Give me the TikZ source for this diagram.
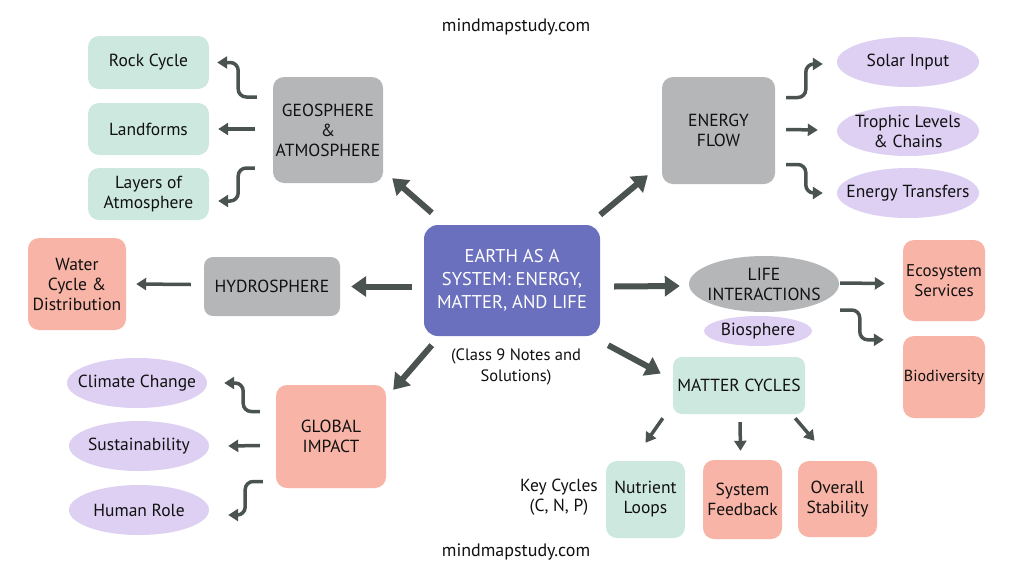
\documentclass[tikz,border=0pt]{standalone}
\usepackage{fontspec}
\setmainfont{PT Sans}
\usetikzlibrary{arrows.meta,calc,shapes.geometric}
\definecolor{cmain}{HTML}{6A70BD}
\definecolor{cgray}{HTML}{B4B6B7}
\definecolor{cmint}{HTML}{CDE9DF}
\definecolor{csalm}{HTML}{F8B4A6}
\definecolor{clav}{HTML}{DDD0F3}
\definecolor{carr}{HTML}{4B5351}
\definecolor{ctxt}{HTML}{111111}
\tikzset{
  box/.style={rectangle, rounded corners=11pt, inner sep=0pt, align=center, text=ctxt,
    font=\fontsize{17.5}{20}\selectfont},
  oval/.style={ellipse, inner xsep=-25pt, inner ysep=-8pt, align=center, text=ctxt, fill=clav,
    minimum width=142pt, minimum height=50pt, font=\fontsize{17.5}{20}\selectfont},
  caps/.style={font=\fontsize{17.5}{20}\selectfont},
  plain/.style={align=center, text=ctxt, font=\fontsize{16.5}{21}\selectfont},
  bigarr/.style={draw=carr, line width=6pt, -{Triangle[length=15pt,width=20pt]}},
  smarr/.style={draw=carr, line width=3.5pt, rounded corners=8pt, -{Triangle[length=10pt,width=12pt]}},
}
\begin{document}
\begin{tikzpicture}[x=1pt,y=-1pt]
\useasboundingbox[fill=white] (0,0) rectangle (1024,576);

% title/footer
\node[plain, font=\fontsize{18}{20}\selectfont] (top) at (516,27) {mindmapstudy.com};
\node[plain, font=\fontsize{18}{20}\selectfont] (bottom) at (516,552) {mindmapstudy.com};

% central
\node[box, fill=cmain, text=white, minimum width=176pt, minimum height=111pt,
  rounded corners=14pt, font=\fontsize{18.5}{23}\selectfont] (center) at (512,280.5)
  {EARTH AS A\\SYSTEM: ENERGY,\\MATTER, AND LIFE};
\node[plain] (notes) at (516,367) {(Class 9 Notes and\\Solutions)};

% geosphere
\node[box, caps, fill=cgray, minimum width=110pt, minimum height=106pt] (geo) at (328,130) {GEOSPHERE\\\&\\ATMOSPHERE};
\node[box, fill=cmint, minimum width=121pt, minimum height=53pt] (rock) at (148.5,62.5) {Rock Cycle};
\node[box, fill=cmint, minimum width=121pt, minimum height=52pt] (land) at (148.5,129) {Landforms};
\node[box, fill=cmint, minimum width=121pt, minimum height=52pt] (layers) at (148.5,194) {Layers of\\Atmosphere};

% energy flow
\node[box, caps, fill=cgray, minimum width=113pt, minimum height=107pt] (energy) at (718.5,130.5) {ENERGY\\FLOW};
\node[oval] (solar) at (908,62) {Solar Input};
\node[oval] (trophic) at (908,131) {Trophic Levels\\\& Chains};
\node[oval] (transf) at (908,193) {Energy Transfers};

% hydrosphere
\node[box, caps, fill=cgray, minimum width=136pt, minimum height=59pt, rounded corners=9pt] (hydro) at (272,286.5) {HYDROSPHERE};
\node[box, fill=csalm, minimum width=98pt, minimum height=92pt] (water) at (77,284) {Water\\Cycle \&\\Distribution};

% global impact
\node[box, caps, fill=csalm, minimum width=110pt, minimum height=103pt] (global) at (331,436.5) {GLOBAL\\IMPACT};
\node[oval, minimum width=140pt] (climate) at (137,383) {Climate Change};
\node[oval, minimum width=140pt] (sust) at (139,446) {Sustainability};
\node[oval, minimum width=140pt] (human) at (139,510) {Human Role};

% life interactions
\node[oval, fill=cgray, minimum width=150pt, minimum height=56pt, caps] (life) at (764,284) {LIFE\\INTERACTIONS};
\node[oval, minimum width=108pt, minimum height=30pt] (bios) at (758,331) {Biosphere};
\node[box, fill=csalm, minimum width=82pt, minimum height=81pt, font=\fontsize{17}{20}\selectfont] (eco) at (944,280.5) {Ecosystem\\Services};
\node[box, fill=csalm, minimum width=82pt, minimum height=82pt, font=\fontsize{16}{19}\selectfont] (biodiv) at (944,377) {Biodiversity};

% matter cycles
\node[box, caps, fill=cmint, minimum width=132pt, minimum height=57pt, rounded corners=9pt] (matter) at (739,385.5) {MATTER CYCLES};
\node[box, fill=cmint, minimum width=79pt, minimum height=77pt] (nutr) at (645.5,499.5) {Nutrient\\Loops};
\node[box, fill=csalm, minimum width=79pt, minimum height=79pt] (feed) at (742.5,499.5) {System\\Feedback};
\node[box, fill=csalm, minimum width=79pt, minimum height=76pt] (stab) at (837.5,499) {Overall\\Stability};
\node[plain, font=\fontsize{17.5}{20}\selectfont] (key) at (559,497) {Key Cycles\\(C, N, P)};

% big arrows from centre
\draw[bigarr] ($(center.north west)+(8,-12)$) -- ($(geo.south east)+(9,-5)$);
\draw[bigarr] ($(center.north east)+(0,-10)$) -- ($(energy.south west)+(-14,-9)$);
\draw[bigarr] ($(center.west)+(-12,6)$) -- ($(hydro.east)+(11,0)$);
\draw[bigarr] ($(center.south west)+(8,9)$) -- ($(global.north east)+(7,5)$);
\draw[bigarr] ($(center.east)+(14,6)$) -- ($(life.west)+(-9,2)$);
\draw[bigarr] ($(center.south east)+(8,9)$) -- ($(matter.west)+(-12,-12)$);

% geosphere children
\draw[smarr] ($(geo.west)+(-16,-33)$) -| ($(rock.east)+(29,0)$) -- ($(rock.east)+(8,0)$);
\draw[smarr] ($(geo.west)+(-18,-1)$) -- ($(land.east)+(9,0)$);
\draw[smarr] ($(geo.west)+(-18,38)$) -| ($(layers.east)+(29,7)$) -- ($(layers.east)+(9,7)$);

% energy children
\draw[smarr] ($(energy.east)+(11,-33)$) -| ($(solar.west)+(-31,2)$) -- ($(solar.west)+(-14,2)$);
\draw[smarr] ($(energy.east)+(11,-1)$) -- ($(trophic.west)+(-19,-1)$);
\draw[smarr] ($(energy.east)+(11,34)$) -| ($(transf.west)+(-31,0)$) -- ($(transf.west)+(-14,0)$);

% hydrosphere child
\draw[smarr] ($(hydro.west)+(-13,-2)$) -- ($(water.east)+(10,0)$);

% global children
\draw[smarr] ($(global.west)+(-16,-25)$) -| ($(climate.east)+(36,0)$) -- ($(climate.east)+(17,0)$);
\draw[smarr] ($(global.west)+(-16,9)$) -- ($(sust.east)+(19,0)$);
\draw[smarr] ($(global.west)+(-13,45)$) -| ($(human.east)+(36,5)$) -- ($(human.east)+(19,5)$);

% life children
\draw[smarr] ($(life.east)+(1,-1)$) -- ($(eco.west)+(-18,3)$);
\draw[smarr] ($(life.east)+(1,26)$) -| ($(biodiv.north west)+(-43,4)$) -- ($(biodiv.north west)+(-19,4)$);

% matter children
\draw[smarr] ($(matter.south west)+(-10,4)$) -- ($(nutr.north)+(0,-18)$);
\draw[smarr] ($(matter.south)+(1,8)$) -- ($(feed.north)+(-2,-9)$);
\draw[smarr] ($(matter.south east)+(-10,4)$) -- ($(stab.north)+(-23,-20)$);
\end{tikzpicture}
\end{document}
